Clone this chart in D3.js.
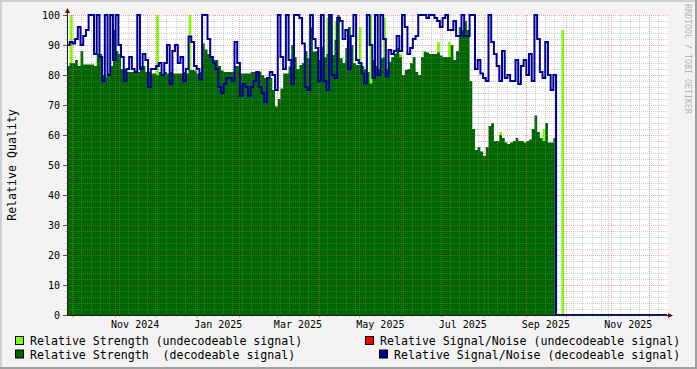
<!DOCTYPE html>
<html><head><meta charset="utf-8">
<script src="https://cdn.jsdelivr.net/npm/d3@7"></script>
<style>body{margin:0;background:#f3f3f3}svg{display:block}text{font-family:"DejaVu Sans Mono",monospace}</style>
</head><body>
<svg id="c" width="697" height="369"></svg>
<script>
// ---- data (2-day bins starting at firstBin) ----
const firstBin = Date.UTC(2024, 8, 26, 13);
const axisEnd = Date.UTC(2025, 11, 14, 16);
const binDays = 2;
const strengthDecodeable = [
 83,84,84,85,83,88,83.5,83.5,83.5,83.5,
 83,87,87,80,79.5,80.5,83,95,88,87,
 82,82,81,81,81,81,81,83,83,81,
 81,80.5,80.5,80,81,80,81,80.5,81,80.5,
 80.5,80.5,80.5,81,80.5,81.7,81.7,81.5,80.5,81,
 90.5,88.5,87,86,85,85,83,81.5,81,81,
 81,81,83,83,80.5,80.5,80.5,80.5,81,81,
 81,81,80,79,79,79,75,69.5,72,75.5,
 80.5,80.5,82.8,90,86,82,83.3,84,88,85.6,
 96,87.8,88,85,89.4,86,87,100,86.7,91.7,
 100,85.6,84,89,96,90,84,83.3,83.3,83,
 82,81,77.2,85,83,82,85.6,86,82,84.4,
 86,87.2,89,86,80,81.7,82,84,86,81,
 80,86,87.8,87.5,87,87,87,87.5,86.5,86,
 86,86,90,85,88,96,95,98,95,78,
 62,55,56,54.5,53,56,63,64,58,58,
 60,59,57.5,57,57.5,58,59,58,58,57.5,
 58,58.5,62,66.5,61,59,58,64,57.5,57.5,59
];
const snrDecodeable = [
 90,91,90.5,92,96,90,93,95,100,100,
 87,100,86,78,100,80,100,85,100,90,
 86,78,82,86,82,81,100,82,87,85,
 76,82,82,83,84,80,84,90,77,88,
 90,84,86,78,82,92.8,91,83,82,78.5,
 100,100,92,86,84,82,76,74,77,79,
 79,78,91,84,73,77,76,73,76,78,
 81,76,74,71,79,81,80,75,100,86,
 82,100,85,77,100,100,99,90.5,76,75,
 100,92,89,78,100,78,75,100,80,79,
 99,98,92,95,82,93,100,85,84,80.5,
 77.2,100,90,79,100,80,100,92,79.5,88.3,
 87,88,93,88,100,96,87,89,92,93,
 100,100,100,99,100,100,99,98,96,99,
 100,95,95,98,93,93,100,93,93,100,
 100,82,85,80.5,79,78,100,91,87,83,
 78,88,79,80,78,78,85,77,83,85,
 80,87,78,100,92,81,79,91,80,75,80
];
const strengthUndecodeable = [
 0,100,0,0,0,0,0,0,0,0,0,0,0,0,0,0,0,0,0,0,
 0,0,0,0,0,0,0,0,0,0,0,0,0,100,0,0,0,0,0,0,
 0,0,0,0,0,100,0,0,0,0,0,0,0,0,0,0,0,0,0,0,
 0,0,0,0,0,0,0,0,0,0,0,0,0,0,0,0,0,0,0,0,
 0,0,0,0,0,0,0,0,0,0,0,0,0,0,0,0,99,0,0,98,
 0,0,0,0,0,0,0,0,96,0,0,0,100,0,0,0,0,99,0,0,
 0,0,0,87,0,0,0,0,0,0,0,0,0,0,0,0,0,91,0,0,
 0,91,0,0,0,0,0,0,0,0,0,0,0,0,0,0,0,0,0,0,
 61,0,0,0,0,0,0,0,0,0,0,0,0,0,0,0,62,0,0,0,
 0,0,0,95
];
const snrUndecodeable = [];
const yTicks = [0,10,20,30,40,50,60,70,80,90,100];
const monthLabels = ["Nov 2024","Jan 2025","Mar 2025","May 2025","Jul 2025","Sep 2025","Nov 2025"];
const legendItems = [
 {label:"Relative Strength (undecodeable signal)", color:"#80ff00"},
 {label:"Relative Strength  (decodeable signal)", color:"#006600"},
 {label:"Relative Signal/Noise (undecodeable signal)", color:"#ff0000"},
 {label:"Relative Signal/Noise (decodeable signal)", color:"#000099"}
];

// ---- layout ----
const W=697,H=369, X0=67, X1=667, Y0=315, Y1=15;
const DAY=864e5;
const x = d3.scaleUtc().domain([new Date(firstBin), new Date(axisEnd)]).range([X0,X1]);
const y = d3.scaleLinear().domain([0,100]).range([Y0,Y1]);
const dateOf = i => new Date(firstBin + i*binDays*DAY);
const svg = d3.select("#c");

svg.append("rect").attr("width",W).attr("height",H).attr("fill","#f3f3f3");
// 3D frame
svg.append("path").attr("d",`M0,0H${W}V2H2V${H}H0Z`).attr("fill","#cfcfcf");
svg.append("path").attr("d",`M${W},${H}H0V${H-2}H${W-2}V0H${W}Z`).attr("fill","#9e9e9e");
// canvas
svg.append("rect").attr("x",X0).attr("y",Y1).attr("width",X1-X0+1).attr("height",Y0-Y1).attr("fill","#fff");

function stepPts(arr){
  const p = arr.map((v,i)=>[dateOf(i), v]);
  p.push([dateOf(arr.length), arr[arr.length-1]]);
  return p;
}
const area = d3.area().x(d=>x(d[0])).y0(y(0)).y1(d=>y(d[1])).curve(d3.curveStepAfter);
const line = d3.line().x(d=>x(d[0])).y(d=>y(d[1])).curve(d3.curveStepAfter);

svg.append("path").attr("d",area(stepPts(strengthUndecodeable))).attr("fill","#80ff00");
svg.append("path").attr("d",area(stepPts(strengthDecodeable))).attr("fill","#006600");

// ---- grid ----
const g = svg.append("g").attr("shape-rendering","crispEdges");
const GRID="rgba(140,140,140,0.4)", MGRID="rgba(222,80,80,0.45)";
const weeks = d3.utcMonday.range(new Date(firstBin), new Date(axisEnd));
const months = d3.utcMonth.range(new Date(firstBin), new Date(axisEnd));
weeks.forEach(d=>{
  const px = Math.round(x(d))+0.5;
  g.append("line").attr("x1",px).attr("x2",px).attr("y1",Y1).attr("y2",Y0).attr("stroke",GRID).attr("stroke-dasharray","1,1");
  g.append("line").attr("x1",px).attr("x2",px).attr("y1",Y0).attr("y2",Y0+2).attr("stroke",GRID);
});
d3.range(0,101,2).filter(v=>v%10!==0).forEach(v=>{
  const py = Math.round(y(v))+0.5;
  g.append("line").attr("x1",X0).attr("x2",X1+1).attr("y1",py).attr("y2",py).attr("stroke",GRID).attr("stroke-dasharray","1,1");
  g.append("line").attr("x1",X0-2).attr("x2",X0).attr("y1",py).attr("y2",py).attr("stroke",GRID);
});
months.forEach(d=>{
  const px = Math.round(x(d))+0.5;
  g.append("line").attr("x1",px).attr("x2",px).attr("y1",Y1).attr("y2",Y0).attr("stroke",MGRID).attr("stroke-dasharray","1,1");
  g.append("line").attr("x1",px).attr("x2",px).attr("y1",Y0).attr("y2",Y0+3).attr("stroke",MGRID);
});
yTicks.forEach(v=>{
  const py = Math.round(y(v))+0.5;
  if(v>0) g.append("line").attr("x1",X0).attr("x2",X1+1).attr("y1",py).attr("y2",py).attr("stroke",MGRID).attr("stroke-dasharray","1,1");
  g.append("line").attr("x1",X0-4).attr("x2",X0).attr("y1",py).attr("y2",py).attr("stroke","#555");
  svg.append("text").attr("x",60).attr("y",y(v)+3.6).attr("text-anchor","end").attr("font-size","10px").attr("fill","#000").text(v);
});

// ---- SNR lines ----
const bPts = stepPts(snrDecodeable);
bPts.push([dateOf(snrDecodeable.length), 0]);
bPts.push([new Date(axisEnd), 0]);
svg.append("path").attr("d",line(bPts)).attr("fill","none").attr("stroke","#000099").attr("stroke-width",2);
if (snrUndecodeable.length) svg.append("path").attr("d",line(stepPts(snrUndecodeable))).attr("fill","none").attr("stroke","#ff0000").attr("stroke-width",2);

// ---- axes ----
const ax = svg.append("g").attr("shape-rendering","crispEdges");
ax.append("line").attr("x1",X0+0.5).attr("x2",X0+0.5).attr("y1",Y0).attr("y2",Y1-3).attr("stroke","#202020");
ax.append("line").attr("x1",X0).attr("x2",X1+3).attr("y1",Y0+0.5).attr("y2",Y0+0.5).attr("stroke","#202020");
svg.append("path").attr("d",`M${X0+0.5},${Y1-7}L${X0+3},${Y1-2}L${X0-2},${Y1-2}Z`).attr("fill","#7f0000");
svg.append("path").attr("d",`M${X1+6},${Y0+0.5}L${X1+1},${Y0+3}L${X1+1},${Y0-2}Z`).attr("fill","#7f0000");

const parseM = d3.utcParse("%b %Y");
monthLabels.forEach(s=>{
  const d = parseM(s);
  const mid = (x(d)+x(d3.utcMonth.offset(d,1)))/2;
  svg.append("text").attr("x",mid).attr("y",328).attr("text-anchor","middle").attr("font-size","10px").attr("fill","#000").text(s);
});

// ---- titles ----
svg.append("text").attr("transform","translate(15.5,165) rotate(-90)").attr("text-anchor","middle")
  .attr("font-size","11.6px").attr("fill","#000").text("Relative Quality");
svg.append("text").attr("transform","translate(684.5,4) rotate(90)").attr("font-size","8.3px")
  .attr("fill","#b4b4b4").text("RRDTOOL / TOBI OETIKER");

// ---- legend ----
const legPos = [[30,345],[30,358.5],[380,345],[394,358.5]];
legendItems.forEach((it,i)=>{
  const [lx,ly] = legPos[i];
  svg.append("rect").attr("x",lx-14.5).attr("y",ly-8.5).attr("width",8).attr("height",8)
    .attr("fill",it.color).attr("stroke","#000").attr("stroke-width",1);
  svg.append("text").attr("x",lx).attr("y",ly).attr("font-size","11.6px").attr("fill","#000")
    .style("white-space","pre").text(it.label);
});
</script>
</body></html>
